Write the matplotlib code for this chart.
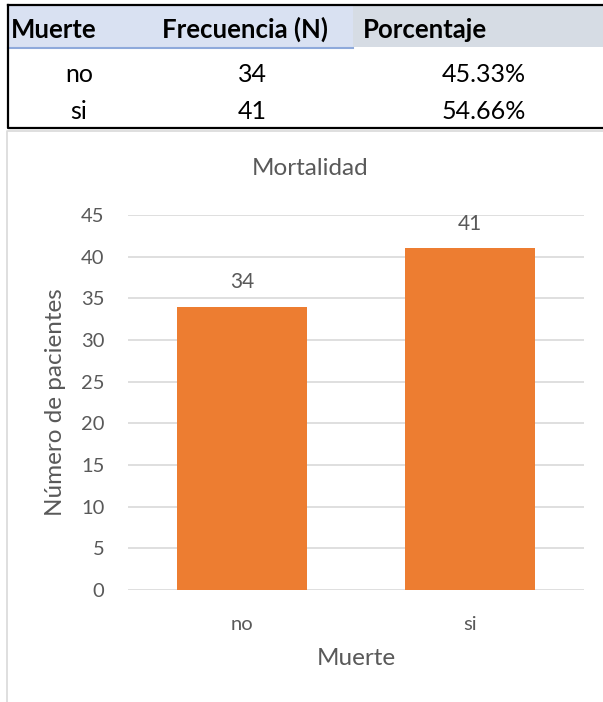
import matplotlib.pyplot as plt
from matplotlib.patches import Rectangle
from matplotlib.lines import Line2D

# Frequency table and chart data
categorias = ['no', 'si']
frecuencias = [34, 41]
porcentajes = ['45.33%', '54.66%']
encabezados = ['Muerte', 'Frecuencia (N)', 'Porcentaje']
yticks = [0, 5, 10, 15, 20, 25, 30, 35, 40, 45]

plt.rcParams['font.family'] = ['Lato', 'DejaVu Sans']

W, H = 603, 702
fig = plt.figure(figsize=(W / 100, H / 100), dpi=100)


def fx(x):
    return x / W


def fy(y):
    return 1 - y / H


# --- table at the top ---
fig.patches.append(Rectangle((fx(8), fy(47)), fx(353 - 8), (47 - 5) / H,
                             transform=fig.transFigure, facecolor='#D9E1F2',
                             edgecolor='none'))
fig.patches.append(Rectangle((fx(353), fy(47)), fx(603 - 353), (47 - 5) / H,
                             transform=fig.transFigure, facecolor='#D6DCE4',
                             edgecolor='none'))
fig.lines.append(Line2D([fx(8), fx(353)], [fy(48), fy(48)],
                        transform=fig.transFigure, color='#8EA9DB', lw=1.5))
# black border around the table
fig.lines.append(Line2D([fx(8), fx(8), fx(604), fx(604), fx(8)],
                        [fy(4.5), fy(127.5), fy(127.5), fy(4.5), fy(4.5)],
                        transform=fig.transFigure, color='black', lw=1.6))

hx = [11, 162, 363]
for x, t in zip(hx, encabezados):
    fig.text(fx(x), fy(38), t, ha='left', va='baseline', fontsize=18.5,
             fontweight='bold', color='black')

for i, (c, n, p) in enumerate(zip(categorias, frecuencias, porcentajes)):
    yb = 82 + i * 37
    fig.text(fx(79), fy(yb), c, ha='center', va='baseline', fontsize=18)
    fig.text(fx(252), fy(yb), str(n), ha='center', va='baseline', fontsize=18)
    fig.text(fx(526), fy(yb), p, ha='right', va='baseline', fontsize=18)

# --- chart frame ---
fig.lines.append(Line2D([fx(7), fx(7), fx(605)], [0, fy(131), fy(131)],
                        transform=fig.transFigure, color='#D9D9D9', lw=1.2))

gris = '#595959'
ax = fig.add_axes([fx(128), fy(590), fx(584 - 128), (590 - 215) / H])
x = list(range(len(categorias)))
ax.bar(x, frecuencias, width=0.57, color='#ED7D31', zorder=3)
for xi, v in zip(x, frecuencias):
    ax.annotate(str(v), (xi, v), xytext=(0, 13.5), textcoords='offset points',
                ha='center', va='baseline', fontsize=15, color=gris)

ax.set_xlim(-0.5, 1.5)
ax.set_ylim(0, 45)
ax.set_yticks(yticks)
ax.yaxis.grid(True, color='#D9D9D9', lw=1.2, zorder=0)
ax.set_xticks(x)
ax.set_xticklabels(categorias)
for s in ax.spines.values():
    s.set_visible(False)
ax.tick_params(length=0, labelsize=14.5, colors=gris)
ax.tick_params(axis='y', pad=17)
ax.tick_params(axis='x', pad=19)

fig.text(fx(310), fy(175), 'Mortalidad', ha='center', va='baseline',
         fontsize=17.5, color=gris)
fig.text(fx(356), fy(665), 'Muerte', ha='center', va='baseline',
         fontsize=17.5, color=gris)
fig.text(fx(56), fy(402), 'Número de pacientes', ha='center', va='center',
         rotation=90, fontsize=17.5, color=gris)

fig.savefig('out.png', dpi=100)
